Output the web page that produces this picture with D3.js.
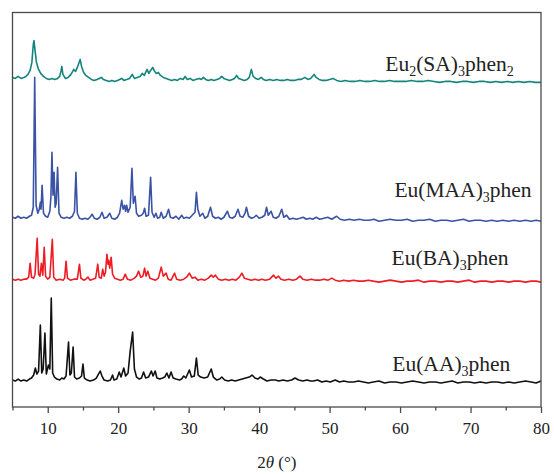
<!DOCTYPE html>
<html>
<head>
<meta charset="utf-8">
<script src="https://cdn.jsdelivr.net/npm/d3@7"></script>
<style>
    body { margin: 0; background: #fff; }
    text { font-family: "Liberation Serif", "DejaVu Serif", serif; fill: #222; }
</style>
</head>
<body>
<div id="chart"></div>
<script>
// 2theta range and ticks
const xDomain = [5, 80];
const majorTicks = [10, 20, 30, 40, 50, 60, 70, 80];
const minorTicks = [5, 15, 25, 35, 45, 55, 65, 75];

// stacking offset of each pattern (a.u.)
const seriesNames = ["Eu(AA)3phen", "Eu(BA)3phen", "Eu(MAA)3phen", "Eu2(SA)3phen2"];
const seriesOffsets = [24, 125, 186, 325];
const seriesColors = ["#111111", "#ee1d25", "#3a53a4", "#14857d"];

// [2theta, intensity]
const aaPattern = [[5.0,3],[5.4,2],[5.8,4],[6.2,2],[6.6,3],[7.0,2],[7.4,4],[7.7,5],[8.0,8],[8.25,15],[8.45,9],[8.7,12],[8.95,58],[9.15,10],[9.35,14],[9.6,50],[9.8,9],[10.1,18],[10.3,14],[10.5,85],[10.7,10],[10.95,6],[11.3,4],[11.7,3],[12.0,5],[12.3,4],[12.6,7],[12.95,41],[13.15,8],[13.35,10],[13.6,36],[13.8,6],[14.1,4],[14.5,5],[14.8,7],[15.0,19],[15.2,5],[15.6,3],[16.0,2],[16.5,3],[16.9,5],[17.2,9],[17.45,12],[17.7,7],[18.0,3],[18.5,2],[18.9,3],[19.2,8],[19.4,3],[19.8,4],[20.15,11],[20.4,6],[20.8,15],[21.05,7],[21.4,10],[21.7,32],[22.05,51],[22.3,14],[22.6,6],[23.0,4],[23.3,5],[23.6,11],[23.9,5],[24.3,6],[24.7,12],[24.95,7],[25.25,12],[25.5,5],[25.9,4],[26.3,5],[26.6,6],[26.9,10],[27.2,5],[27.5,11],[27.8,5],[28.2,4],[28.7,3],[29.0,4],[29.3,7],[29.6,5],[30.1,13],[30.4,6],[30.8,7],[31.1,25],[31.35,8],[31.7,6],[32.2,5],[32.7,6],[33.2,14],[33.5,6],[34.0,3],[34.4,4],[34.7,6],[35.1,3],[35.6,2],[36.1,3],[36.6,2],[37.1,3],[37.6,4],[38.1,5],[38.6,6],[39.0,8],[39.4,5],[39.8,4],[40.15,6],[40.6,4],[41.1,2],[41.7,3],[42.3,3],[42.8,2],[43.4,3],[44.0,2],[44.6,3],[45.1,5],[45.6,3],[46.2,2],[46.8,3],[47.3,2],[47.7,2],[48.3,3],[48.9,1],[49.5,2],[50.1,1],[50.8,3],[51.4,1],[52.0,2],[52.7,1],[53.4,1],[54.1,2],[54.8,1],[55.5,0],[56.2,1],[57.0,2],[57.8,0],[58.6,1],[59.4,1],[60.2,0],[61.0,1],[61.8,2],[62.6,1],[63.4,0],[64.2,1],[65.0,1],[65.8,0],[66.6,1],[67.4,2],[68.2,0],[69.0,1],[69.8,1],[70.6,0],[71.4,1],[72.2,0],[73.0,1],[73.8,1],[74.6,0],[75.4,1],[76.2,0],[77.0,1],[77.8,2],[78.6,1],[79.3,0],[80.0,2]];

const baPattern = [[5.0,3],[5.4,2],[5.8,3],[6.2,2],[6.6,3],[7.0,3],[7.3,5],[7.5,19],[7.7,5],[8.0,4],[8.2,8],[8.5,44],[8.7,8],[8.9,6],[9.1,19],[9.3,7],[9.5,35],[9.7,6],[10.0,3],[10.3,5],[10.65,43],[10.85,5],[11.2,2],[11.7,3],[12.2,2],[12.4,4],[12.6,21],[12.8,4],[13.2,2],[13.7,3],[14.2,3],[14.5,18],[14.7,4],[15.1,2],[15.4,3],[15.7,5],[16.0,2],[16.4,3],[16.8,4],[17.1,18],[17.3,5],[17.6,4],[17.8,13],[18.0,6],[18.2,10],[18.4,28],[18.55,18],[18.65,22],[18.8,14],[19.0,25],[19.2,8],[19.5,4],[19.9,3],[20.3,2],[20.7,3],[21.0,8],[21.3,3],[21.8,2],[22.3,4],[22.6,6],[22.9,11],[23.2,5],[23.5,6],[23.75,14],[23.95,6],[24.2,11],[24.5,4],[24.9,3],[25.3,2],[25.7,4],[26.1,15],[26.4,6],[26.8,9],[27.1,3],[27.5,2],[28.0,9],[28.3,3],[28.8,2],[29.3,3],[29.7,5],[30.1,9],[30.5,4],[30.9,5],[31.3,2],[31.8,3],[32.3,2],[32.8,4],[33.2,7],[33.5,5],[33.8,7],[34.2,3],[34.7,2],[35.2,3],[35.7,2],[36.2,3],[36.7,2],[37.2,5],[37.55,9],[37.9,4],[38.4,3],[38.9,2],[39.4,3],[39.9,2],[40.4,3],[40.9,2],[41.5,3],[42.05,7],[42.4,4],[42.75,6],[43.1,3],[43.6,2],[44.2,3],[44.8,2],[45.3,3],[45.8,6],[46.2,3],[46.8,2],[47.4,3],[48.0,2],[48.6,2],[49.2,3],[49.8,2],[50.3,4],[50.8,2],[51.4,1],[52.0,2],[52.7,1],[53.4,2],[54.1,1],[54.8,1],[55.5,2],[56.2,1],[57.0,0],[57.8,1],[58.6,2],[59.4,1],[60.2,0],[61.0,1],[61.8,1],[62.6,2],[63.4,0],[64.2,1],[65.0,1],[65.8,0],[66.6,1],[67.4,1],[68.2,0],[69.0,1],[69.8,2],[70.6,0],[71.4,1],[72.2,1],[73.0,0],[73.8,1],[74.6,1],[75.4,0],[76.2,1],[77.0,1],[77.8,0],[78.6,1],[79.3,1],[80.0,0]];

const maaPattern = [[5.0,4],[5.4,3],[5.8,5],[6.2,3],[6.6,4],[7.0,3],[7.4,5],[7.7,6],[7.95,14],[8.15,144],[8.35,16],[8.6,8],[8.8,12],[8.95,19],[9.05,12],[9.2,36],[9.4,8],[9.7,5],[10.0,4],[10.3,10],[10.45,24],[10.6,69],[10.75,26],[10.9,49],[11.05,14],[11.2,18],[11.4,54],[11.6,8],[11.9,4],[12.3,3],[12.7,4],[13.1,3],[13.5,5],[13.8,10],[14.0,49],[14.2,8],[14.5,3],[14.9,2],[15.3,3],[15.7,2],[16.0,4],[16.3,7],[16.6,3],[17.0,2],[17.4,4],[17.7,9],[18.0,3],[18.4,4],[18.8,8],[19.1,3],[19.5,2],[19.9,4],[20.2,8],[20.5,21],[20.7,12],[20.9,16],[21.05,10],[21.2,16],[21.4,9],[21.7,14],[21.95,53],[22.15,18],[22.4,25],[22.6,8],[22.9,5],[23.3,6],[23.55,8],[23.75,13],[23.95,5],[24.3,6],[24.6,44],[24.8,9],[25.1,4],[25.35,8],[25.6,3],[25.9,4],[26.1,9],[26.4,3],[26.8,5],[27.15,12],[27.4,4],[27.8,3],[28.2,5],[28.6,2],[29.0,6],[29.3,3],[29.7,4],[30.1,3],[30.5,6],[30.9,9],[31.1,29],[31.3,12],[31.6,5],[32.0,8],[32.3,3],[32.7,5],[33.1,14],[33.4,5],[33.8,3],[34.2,4],[34.6,2],[35.0,4],[35.5,10],[35.8,4],[36.2,3],[36.6,5],[37.0,12],[37.3,5],[37.7,4],[38.0,8],[38.2,14],[38.5,5],[38.9,3],[39.3,4],[39.6,6],[40.0,3],[40.4,4],[40.8,6],[41.05,14],[41.3,6],[41.7,10],[42.0,4],[42.4,3],[42.8,5],[43.2,12],[43.5,4],[43.9,6],[44.3,2],[44.8,3],[45.3,2],[45.8,3],[46.25,4],[46.7,2],[47.2,3],[47.6,2],[48.1,4],[48.6,2],[49.2,3],[49.75,4],[50.3,2],[51.0,5],[51.5,2],[52.1,1],[52.8,2],[53.5,1],[54.2,2],[54.9,1],[55.6,1],[56.3,2],[57.0,0],[57.8,1],[58.6,2],[59.4,1],[60.2,1],[61.0,2],[61.8,0],[62.6,1],[63.4,1],[64.2,2],[65.0,0],[65.8,1],[66.6,1],[67.4,0],[68.2,1],[69.0,2],[69.8,0],[70.6,1],[71.4,1],[72.2,0],[73.0,1],[73.8,0],[74.6,1],[75.4,0],[76.2,1],[77.0,0],[77.8,1],[78.6,0],[79.3,1],[80.0,0]];

const saPattern = [[5.0,5],[5.4,4],[5.8,6],[6.2,4],[6.6,5],[6.9,6],[7.2,8],[7.5,12],[7.75,20],[7.95,38],[8.05,42],[8.2,32],[8.4,20],[8.7,13],[9.0,9],[9.4,6],[9.8,4],[10.2,3],[10.6,4],[11.0,3],[11.4,4],[11.7,6],[11.9,12],[12.0,16],[12.15,8],[12.5,4],[12.9,5],[13.3,8],[13.7,13],[13.95,11],[14.2,15],[14.45,20],[14.6,23],[14.8,16],[15.1,10],[15.4,7],[15.8,5],[16.2,3],[16.6,2],[17.0,3],[17.3,4],[17.6,5],[17.9,3],[18.3,2],[18.7,1],[19.1,2],[19.5,1],[19.9,2],[20.2,3],[20.5,4],[20.8,2],[21.2,3],[21.6,4],[22.0,8],[22.3,4],[22.7,5],[23.1,6],[23.4,9],[23.7,7],[24.1,13],[24.35,9],[24.6,12],[24.9,15],[25.1,12],[25.4,9],[25.7,10],[26.0,7],[26.4,5],[26.8,4],[27.2,3],[27.6,2],[28.0,3],[28.4,2],[28.8,4],[29.2,3],[29.5,6],[29.8,3],[30.2,4],[30.6,2],[31.0,3],[31.5,4],[31.8,3],[32.1,5],[32.4,3],[32.8,2],[33.2,3],[33.6,2],[34.0,3],[34.4,4],[34.7,6],[35.0,4],[35.4,3],[35.8,2],[36.2,3],[36.5,4],[36.8,7],[37.1,4],[37.5,3],[37.9,2],[38.3,3],[38.6,5],[38.9,13],[39.15,6],[39.5,4],[39.9,3],[40.3,5],[40.6,3],[41.0,2],[41.5,3],[42.0,2],[42.5,3],[43.0,2],[43.5,2],[44.0,3],[44.5,2],[45.0,2],[45.5,3],[46.0,3],[46.5,5],[46.9,3],[47.3,4],[47.8,8],[48.1,5],[48.5,3],[49.0,2],[49.5,2],[50.0,3],[50.5,4],[51.0,2],[51.6,1],[52.2,2],[52.9,1],[53.6,1],[54.3,2],[55.0,1],[55.7,1],[56.4,2],[57.1,1],[57.8,1],[58.5,2],[59.2,1],[60.0,1],[60.8,1],[61.6,2],[62.4,1],[63.2,1],[64.0,2],[64.8,1],[65.6,0],[66.4,1],[67.2,1],[68.0,0],[68.8,1],[69.6,1],[70.4,0],[71.2,1],[72.0,1],[72.8,0],[73.6,1],[74.4,0],[75.2,1],[76.0,0],[76.8,1],[77.6,0],[78.4,1],[79.2,0],[80.0,0]];

const patterns = [aaPattern, baPattern, maaPattern, saPattern];

// label pieces: [text, isSubscript]
const labelParts = [
    [["Eu(AA)", false], ["3", true], ["phen", false]],
    [["Eu(BA)", false], ["3", true], ["phen", false]],
    [["Eu(MAA)", false], ["3", true], ["phen", false]],
    [["Eu", false], ["2", true], ["(SA)", false], ["3", true], ["phen", false], ["2", true]]
];
// label anchor in data space [2theta, intensity]
const labelAnchors = [[58.9, 36], [58.8, 142], [59.2, 210], [57.9, 336]];

const width = 554, height = 474;
const margin = {top: 12.5, right: 13, bottom: 67, left: 12.5};

const svg = d3.select("#chart").append("svg")
    .attr("width", width)
    .attr("height", height);

const x = d3.scaleLinear()
    .domain(xDomain)
    .range([margin.left, width - margin.right]);

const y = d3.scaleLinear()
    .domain([0, 395])
    .range([height - margin.bottom, margin.top]);

// patterns
const line = d3.line()
    .x(d => x(d[0]))
    .y(d => y(d[1]));

patterns.forEach(function (pts, i) {
    svg.append("path")
        .datum(pts.map(d => [d[0], d[1] + seriesOffsets[i]]))
        .attr("fill", "none")
        .attr("stroke", seriesColors[i])
        .attr("stroke-width", 1.6)
        .attr("stroke-linejoin", "round")
        .attr("d", line);
});

// frame
svg.append("rect")
    .attr("x", x(xDomain[0]))
    .attr("y", y(395))
    .attr("width", x(xDomain[1]) - x(xDomain[0]))
    .attr("height", y(0) - y(395))
    .attr("fill", "none")
    .attr("stroke", "#4a4a4a")
    .attr("stroke-width", 1.3);

// x axis
const xAxis = svg.append("g")
    .attr("transform", "translate(0," + y(0) + ")")
    .call(d3.axisBottom(x).tickValues(majorTicks).tickSize(6).tickPadding(9).tickFormat(d3.format("d")));
xAxis.select(".domain").remove();
xAxis.selectAll("line").attr("stroke", "#4a4a4a").attr("stroke-width", 1.3);
xAxis.selectAll("text")
    .style("font-family", "'Liberation Serif', serif")
    .style("font-size", "17px")
    .attr("fill", "#222");

const xMinor = svg.append("g")
    .attr("transform", "translate(0," + y(0) + ")")
    .call(d3.axisBottom(x).tickValues(minorTicks).tickSize(3.5).tickFormat(""));
xMinor.select(".domain").remove();
xMinor.selectAll("line").attr("stroke", "#4a4a4a").attr("stroke-width", 1.3);

// axis title
const title = svg.append("text")
    .attr("x", (x(xDomain[0]) + x(xDomain[1])) / 2)
    .attr("y", height - 6)
    .attr("text-anchor", "middle")
    .style("font-size", "17px");
title.append("tspan").text("2");
title.append("tspan").style("font-style", "italic").text("θ");
title.append("tspan").text(" (°)");

// series labels
labelParts.forEach(function (parts, i) {
    const t = svg.append("text")
        .attr("x", x(labelAnchors[i][0]))
        .attr("y", y(labelAnchors[i][1]))
        .style("font-size", "21.5px");
    let shifted = false;
    parts.forEach(function (p) {
        const ts = t.append("tspan").text(p[0]);
        if (p[1] && !shifted) { ts.attr("dy", 5).style("font-size", "14px"); shifted = true; }
        else if (!p[1] && shifted) { ts.attr("dy", -5); shifted = false; }
        else if (p[1]) ts.style("font-size", "14px");
    });
});
</script>
</body>
</html>
